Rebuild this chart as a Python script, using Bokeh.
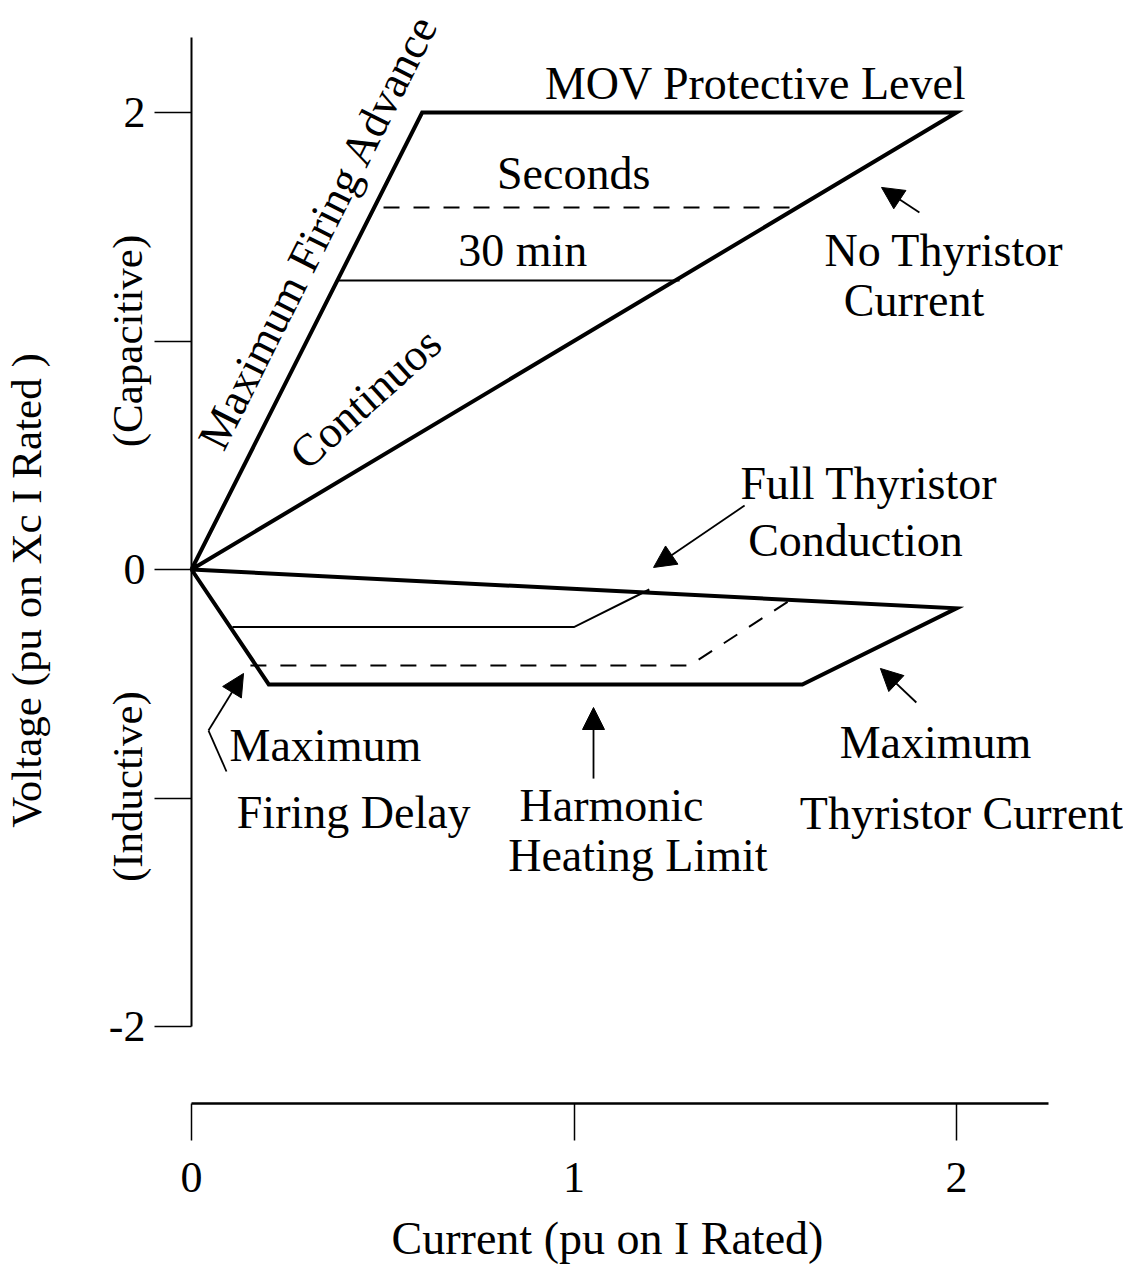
import math
from bokeh.plotting import figure
from bokeh.models import (Range1d, FixedTicker, Arrow, NormalHead,
                          LinearAxis, ColumnDataSource)
from bokeh.embed import file_html
from bokeh.resources import INLINE
from bokeh.core.properties import value

FONT = "Liberation Serif"

# ---------------- data ----------------
x_ticks = [0, 1, 2]
x_tick_labels = ["0", "1", "2"]
y_ticks = [-2, -1, 0, 1, 2]
y_tick_labels = ["-2", "", "0", "", "2"]
x_title = "Current (pu on I Rated)"
y_title = "Voltage (pu on Xc I Rated )"

# capacitive boundary: max firing advance -> MOV level -> no thyristor current
cap_x = [0.0, 0.603, 2.0, 0.0]
cap_y = [0.0, 2.0, 2.0, 0.0]
# short-time limits
seconds_x = [0.502, 1.597]
seconds_y = [1.584, 1.584]
min30_x = [0.384, 1.276]
min30_y = [1.265, 1.265]
# inductive boundary: full conduction -> max thyristor current -> harmonic heating -> max delay
ind_x = [0.0, 2.0, 1.597, 0.202, 0.0]
ind_y = [0.0, -0.17, -0.503, -0.503, 0.0]
ind_thin_x = [0.107, 1.0, 1.197]
ind_thin_y = [-0.252, -0.252, -0.0875]
ind_dash_x = [0.154, 1.302, 1.560]
ind_dash_y = [-0.420, -0.420, -0.140]

labels_text = ["MOV Protective Level", "Seconds", "30 min", "No Thyristor", "Current",
               "Full Thyristor", "Conduction", "Maximum", "Firing Delay", "Harmonic",
               "Heating Limit", "Maximum", "Thyristor Current"]
labels_x = [1.475, 0.999, 0.866, 1.967, 1.889, 1.771, 1.736, 0.350, 0.424, 1.098, 1.167,
            1.945, 2.013]
labels_y = [2.127, 1.733, 1.396, 1.396, 1.177, 0.376, 0.127, -0.770, -1.063, -1.033, -1.252,
            -0.757, -1.068]

side_text = ["(Capacitive)", "(Inductive)"]
side_x = [-0.167, -0.167]
side_y = [1.0, -0.95]

rot_text = ["Maximum Firing Advance", "Continuos"]
rot_x = [0.331, 0.455]
rot_y = [1.479, 0.748]
rot_deg = [63.3, 42.0]

arrow_x0 = [1.903, 1.446, 1.895, 1.051, 0.0444]
arrow_y0 = [1.562, 0.280, -0.582, -0.915, -0.705]
arrow_x1 = [1.804, 1.208, 1.801, 1.051, 0.136]
arrow_y1 = [1.672, 0.009, -0.433, -0.604, -0.455]
leader_x = [0.0915, 0.0444]
leader_y = [-0.884, -0.705]

# ---------------- layout ----------------
PX_X = 382.5          # pixels per unit of current
PX_Y = 228.5          # pixels per unit of voltage
W, H = 1123, 1265
X0_PX, Y0_PX = 191, 569   # canvas position of the origin

x_start = -X0_PX / PX_X
x_end = (W - X0_PX) / PX_X
y_end = Y0_PX / PX_Y
y_start = -(H - Y0_PX) / PX_Y
x_axis_loc = -(1103 - Y0_PX) / PX_Y

p = figure(width=W, height=H, output_backend="svg", toolbar_location=None, title=None,
           x_range=Range1d(x_start, x_end), y_range=Range1d(y_start, y_end),
           x_axis_type=None, y_axis_type=None,
           min_border_left=0, min_border_right=0, min_border_top=0, min_border_bottom=0)
p.outline_line_color = None
p.background_fill_color = "white"
p.border_fill_color = "white"

yaxis = LinearAxis(ticker=FixedTicker(ticks=y_ticks, minor_ticks=[]),
                   major_label_overrides={t: l for t, l in zip(y_ticks, y_tick_labels)},
                   bounds=(-2, 2.328), fixed_location=0,
                   axis_line_width=2, axis_line_color="black",
                   major_tick_line_width=1.5, major_tick_line_color="black",
                   major_tick_out=37, major_tick_in=0, minor_tick_out=0, minor_tick_in=0,
                   major_label_standoff=9,
                   major_label_text_font=FONT, major_label_text_font_size="44px",
                   major_label_text_color="black")
p.add_layout(yaxis, "left")

xaxis = LinearAxis(ticker=FixedTicker(ticks=x_ticks, minor_ticks=[]),
                   major_label_overrides={t: l for t, l in zip(x_ticks, x_tick_labels)},
                   bounds=(0, 2.24), fixed_location=x_axis_loc,
                   axis_line_width=2.5, axis_line_color="black",
                   major_tick_line_width=1.5, major_tick_line_color="black",
                   major_tick_out=37, major_tick_in=0, minor_tick_out=0, minor_tick_in=0,
                   major_label_standoff=22,
                   major_label_text_font=FONT, major_label_text_font_size="44px",
                   major_label_text_color="black")
p.add_layout(xaxis, "below")

# boundaries
p.line(cap_x, cap_y, line_width=4, line_color="black", line_join="miter")
p.line(ind_x, ind_y, line_width=4, line_color="black", line_join="miter")
p.line(min30_x, min30_y, line_width=2, line_color="black")
p.line(seconds_x, seconds_y, line_width=2, line_color="black", line_dash="16 14")
p.line(ind_thin_x, ind_thin_y, line_width=2, line_color="black", line_join="miter")
p.line(ind_dash_x, ind_dash_y, line_width=2, line_color="black", line_dash="16 14",
       line_join="miter")

# arrows
p.line(leader_x, leader_y, line_width=1.8, line_color="black")
asrc = ColumnDataSource(dict(x0=arrow_x0, y0=arrow_y0, x1=arrow_x1, y1=arrow_y1))
p.add_layout(Arrow(source=asrc, x_start="x0", y_start="y0", x_end="x1", y_end="y1",
                   line_width=1.8, line_color="black",
                   end=NormalHead(size=22, fill_color="black", line_color="black", line_width=1)))

# texts
common = dict(text_font=value(FONT), text_align=value("center"),
              text_baseline=value("middle"), text_color="black")
p.text(x=labels_x, y=labels_y, text=labels_text, text_font_size=value("46px"), **common)
p.text(x=rot_x, y=rot_y, text=rot_text, angle=[math.radians(a) for a in rot_deg],
       text_font_size=value("45px"), **common)
p.text(x=side_x, y=side_y, text=side_text, angle=math.pi / 2,
       text_font_size=value("43px"), **common)

# axis titles placed where the reference shows them
p.text(x=[-(X0_PX - 26) / PX_X], y=[(Y0_PX - 590) / PX_Y], text=[y_title], angle=math.pi / 2,
       text_font_size=value("43px"), **common)
p.text(x=[(607 - X0_PX) / PX_X], y=[(Y0_PX - 1238) / PX_Y], text=[x_title],
       text_font_size=value("46px"), **common)

open("out.html", "w").write(file_html(p, INLINE))
